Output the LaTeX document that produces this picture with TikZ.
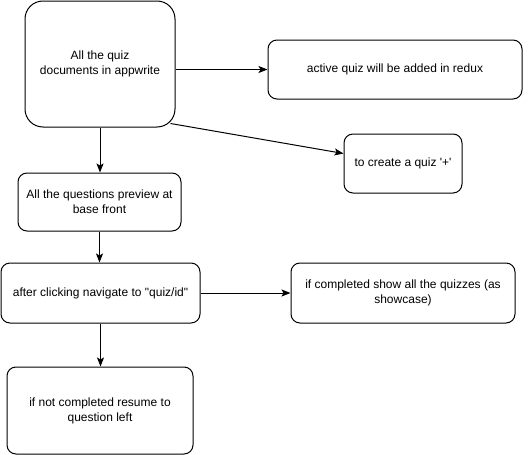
\documentclass[tikz,border=0pt]{standalone}
\usepackage{fontspec}
\setmainfont{Liberation Sans}[Ligatures=TeXOff]
\usetikzlibrary{arrows.meta}
\tikzset{
  flowbox/.style={draw, line width=1pt, rounded corners=9pt, align=center,
    inner sep=0pt, font=\fontsize{12}{15}\selectfont},
  flowarrow/.style={-{Stealth[length=9pt,width=7pt,inset=2pt]}, line width=1pt}
}
\begin{document}
\begin{tikzpicture}[x=1pt,y=-1pt]
		\useasboundingbox (0,0) rectangle (530,455);
		% boxes
		\node[flowbox, rounded corners=18pt, minimum width=150pt, minimum height=126pt] (docs) at (100,64) {All the quiz\\documents in appwrite};
		\node[flowbox, minimum width=254pt, minimum height=59pt] (redux) at (395,69.5) {active quiz will be added in redux};
		\node[flowbox, minimum width=118pt, minimum height=59pt] (create) at (403,163.5) {to create a quiz '+'};
		\node[flowbox, minimum width=163pt, minimum height=58pt] (preview) at (99.5,202) {All the questions preview at\\base front};
		\node[flowbox, minimum width=199pt, minimum height=60pt] (navigate) at (100.5,293) {after clicking navigate to "quiz/id"};
		\node[flowbox, minimum width=224pt, minimum height=60pt] (complete) at (403,293) {if completed show all the quizzes (as\\showcase)};
		\node[flowbox, minimum width=186pt, minimum height=87pt] (resume) at (100,410.5) {if not completed resume to\\question left};
		% connectors
		\draw[flowarrow] (docs.east |- redux.west) -- (redux.west);
		\draw[flowarrow] ([shift={(-5,-4)}]docs.south east) -- ([shift={(0,-10)}]create.west);
		\draw[flowarrow] (docs.south) -- (docs.south |- preview.north);
		\draw[flowarrow] (preview.south) -- (preview.south |- navigate.north);
		\draw[flowarrow] (navigate.east) -- (complete.west);
		\draw[flowarrow] (navigate.south) -- (navigate.south |- resume.north);
	\end{tikzpicture}
\end{document}
